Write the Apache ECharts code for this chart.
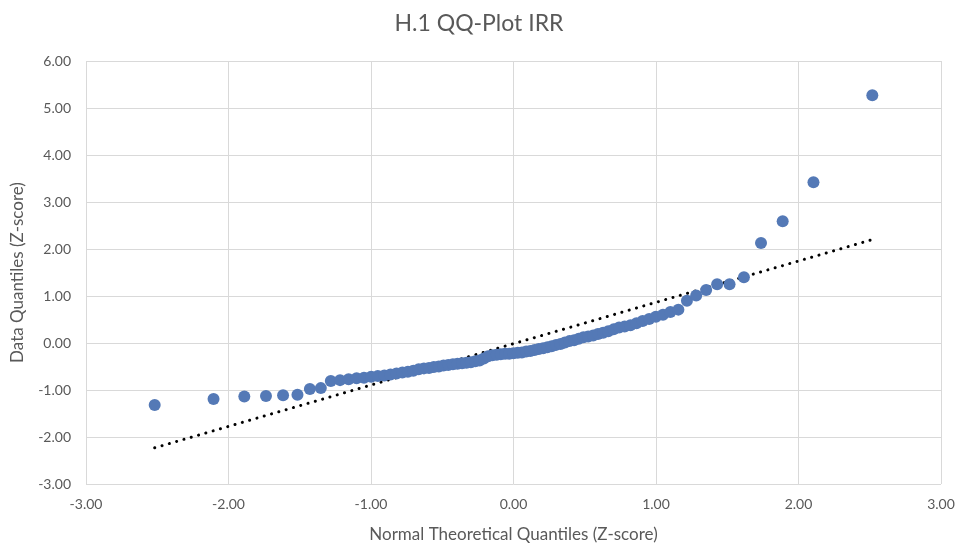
<!DOCTYPE html>
<html>
<head>
<meta charset="utf-8">
<script src="https://cdn.jsdelivr.net/npm/echarts@6/dist/echarts.min.js"></script>
<style>html,body{margin:0;padding:0;background:#fff}#c{width:958px;height:548px}</style>
</head>
<body>
<div id="c"></div>
<script>
var theoreticalQuantiles = [
  -2.518,-2.105,-1.889,-1.737,-1.617,-1.516,-1.429,-1.352,-1.282,-1.217,
  -1.157,-1.101,-1.049,-0.999,-0.952,-0.906,-0.863,-0.821,-0.780,-0.741,
  -0.703,-0.665,-0.629,-0.593,-0.559,-0.524,-0.491,-0.458,-0.425,-0.393,
  -0.361,-0.330,-0.299,-0.268,-0.238,-0.208,-0.178,-0.148,-0.118,-0.089,
  -0.059,-0.030,0.000,0.030,0.059,0.089,0.118,0.148,0.178,0.208,
  0.238,0.268,0.299,0.330,0.361,0.393,0.425,0.458,0.491,0.524,
  0.559,0.593,0.629,0.665,0.703,0.741,0.780,0.821,0.863,0.906,
  0.952,0.999,1.049,1.101,1.157,1.217,1.282,1.352,1.429,1.516,
  1.617,1.737,1.889,2.105,2.518
];
var dataQuantiles = [
  -1.32,-1.19,-1.14,-1.13,-1.11,-1.10,-0.98,-0.96,-0.81,-0.79,
  -0.77,-0.75,-0.74,-0.72,-0.70,-0.69,-0.67,-0.65,-0.63,-0.61,
  -0.59,-0.56,-0.54,-0.53,-0.51,-0.50,-0.48,-0.47,-0.45,-0.44,
  -0.43,-0.42,-0.41,-0.39,-0.37,-0.33,-0.28,-0.26,-0.25,-0.24,
  -0.23,-0.23,-0.22,-0.21,-0.20,-0.18,-0.17,-0.15,-0.13,-0.11,
  -0.09,-0.07,-0.04,-0.02,0.01,0.04,0.06,0.09,0.12,0.14,
  0.16,0.19,0.22,0.25,0.29,0.33,0.35,0.38,0.42,0.47,
  0.51,0.56,0.60,0.66,0.71,0.90,1.01,1.13,1.25,1.25,
  1.40,2.13,2.59,3.42,5.27
];
var trendX = [-2.518, 2.518];
var trendY = [-2.23, 2.20];

var points = theoreticalQuantiles.map(function(x, i){ return [x, dataQuantiles[i]]; });
var trend = trendX.map(function(x, i){ return [x, trendY[i]]; });

var FONT = 'Lato, "Open Sans", sans-serif';
var chart = echarts.init(document.getElementById('c'), null, {renderer: 'canvas'});
chart.setOption({
  animation: false,
  backgroundColor: '#ffffff',
  title: {
    text: 'H.1 QQ-Plot IRR',
    left: 'center',
    top: 7,
    textStyle: {fontFamily: FONT, fontSize: 23, fontWeight: 'normal', color: '#595959'}
  },
  grid: {left: 86, right: 17, top: 61, bottom: 59},
  xAxis: {
    type: 'value', min: -3, max: 3, interval: 1,
    name: 'Normal Theoretical Quantiles (Z-score)',
    nameLocation: 'middle', nameGap: 42,
    nameTextStyle: {fontFamily: FONT, fontSize: 17, color: '#595959'},
    axisLine: {show: false},
    axisTick: {show: false},
    axisLabel: {fontFamily: FONT, fontSize: 14, color: '#595959', margin: 13,
      formatter: function(v){ return v.toFixed(2); }},
    splitLine: {show: true, lineStyle: {color: '#d9d9d9', width: 1}}
  },
  yAxis: {
    type: 'value', min: -3, max: 6, interval: 1,
    name: 'Data Quantiles (Z-score)',
    nameLocation: 'middle', nameGap: 60, nameRotate: 90,
    nameTextStyle: {fontFamily: FONT, fontSize: 17, color: '#595959'},
    axisLine: {show: false},
    axisTick: {show: false},
    axisLabel: {fontFamily: FONT, fontSize: 14, color: '#595959', margin: 15,
      formatter: function(v){ return v.toFixed(2); }},
    splitLine: {show: true, lineStyle: {color: '#d9d9d9', width: 1}}
  },
  series: [
    {
      type: 'line',
      data: trend,
      symbol: 'none',
      z: 1,
      lineStyle: {color: '#000000', width: 3, type: [0.1, 7.5], cap: 'round'}
    },
    {
      type: 'scatter',
      data: points,
      symbol: 'circle',
      symbolSize: 12,
      z: 3,
      itemStyle: {color: '#5479b6', opacity: 1}
    }
  ]
});
</script>
</body>
</html>
